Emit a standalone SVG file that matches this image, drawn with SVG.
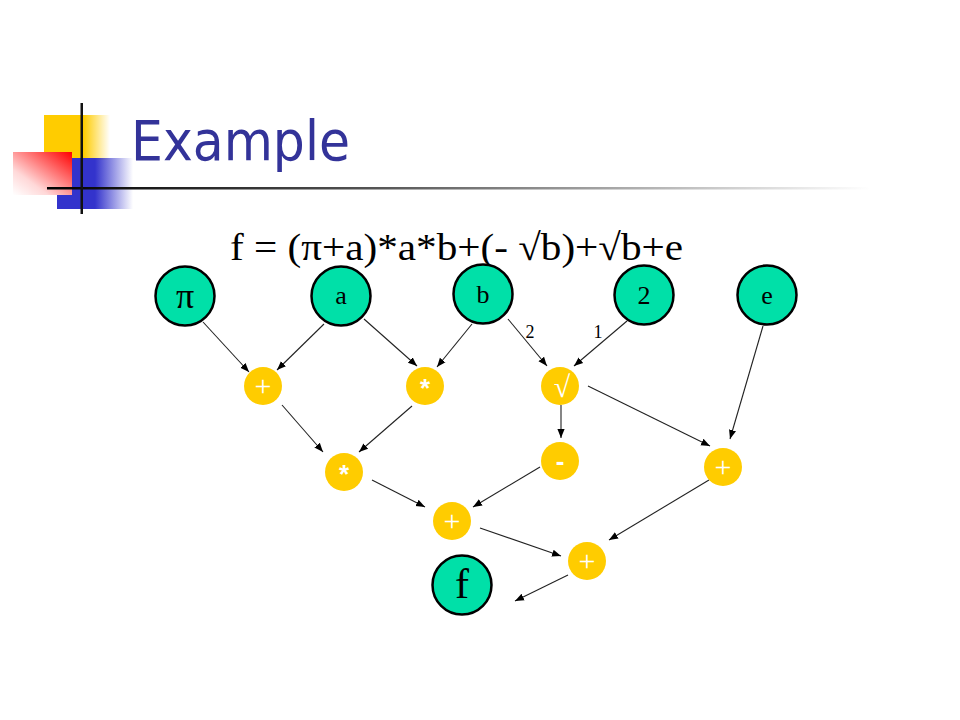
<svg xmlns="http://www.w3.org/2000/svg" width="960" height="720" viewBox="0 0 960 720">
<style>
.g{fill:#00E0A8;stroke:#000;stroke-width:2.5}
.y{fill:#FFCC00}
.gt{font-family:"Liberation Serif",serif;font-size:26px;fill:#000;text-anchor:middle}
.big{font-size:36px}
.huge{font-size:42px}
.yt{font-family:"Liberation Serif",serif;font-size:30px;fill:#fff;text-anchor:middle}
.bd{font-weight:bold;font-family:"Liberation Sans",sans-serif;font-size:26px}
.e{stroke:#222;stroke-width:1.1;fill:none;marker-end:url(#ah)}
.lbl{font-family:"Liberation Serif",serif;font-size:18px;fill:#000;text-anchor:middle}
</style>
<defs>
<marker id="ah" viewBox="0 0 10 10" refX="10" refY="5" markerWidth="9" markerHeight="9" markerUnits="userSpaceOnUse" orient="auto">
<path d="M0,1 L10,5 L0,9 z" fill="#000"/>
</marker>
<linearGradient id="yg" x1="0" y1="0" x2="1" y2="0">
<stop offset="0" stop-color="#FFCC00"/><stop offset="0.6" stop-color="#FFCC00"/><stop offset="1" stop-color="#FFCC00" stop-opacity="0"/>
</linearGradient>
<linearGradient id="bg" x1="0" y1="0" x2="1" y2="0">
<stop offset="0" stop-color="#3333CC"/><stop offset="0.5" stop-color="#3333CC"/><stop offset="1" stop-color="#3333CC" stop-opacity="0"/>
</linearGradient>
<linearGradient id="rg" x1="1" y1="0" x2="0" y2="1">
<stop offset="0" stop-color="#FF0000"/><stop offset="0.7" stop-color="#FFD8D8"/><stop offset="1" stop-color="#FFFFFF"/>
</linearGradient>
<linearGradient id="lg" x1="0" y1="0" x2="1" y2="0">
<stop offset="0" stop-color="#000"/><stop offset="0.4" stop-color="#555"/><stop offset="1" stop-color="#fff"/>
</linearGradient>
</defs>
<rect width="960" height="720" fill="#fff"/>
<g id="decor">
<rect x="44" y="115" width="66" height="45" fill="url(#yg)"/>
<rect x="57" y="158" width="76" height="51" fill="url(#bg)"/>
<rect x="13" y="152" width="59" height="43" fill="url(#rg)"/>
<rect x="47" y="187" width="823" height="2.5" fill="url(#lg)"/>
<rect x="80.5" y="103" width="2.5" height="111" fill="#111"/>
</g>
<text id="title" x="131" y="160" font-family="Tahoma,'DejaVu Sans',sans-serif" font-size="56" fill="#333399" textLength="219" lengthAdjust="spacingAndGlyphs">Example</text>
<text id="formula" x="230" y="260" font-family="'Liberation Serif',serif" font-size="38" fill="#000" textLength="453" lengthAdjust="spacingAndGlyphs">f = (π+a)*a*b+(- √b)+√b+e</text>
<g id="connectors">
<line class="e" x1="203" y1="322" x2="249" y2="372"/>
<line class="e" x1="324" y1="324" x2="277" y2="370"/>
<line class="e" x1="364" y1="319" x2="417" y2="366"/>
<line class="e" x1="472" y1="324" x2="437" y2="367"/>
<line class="e" x1="508" y1="319" x2="547" y2="366"/>
<line class="e" x1="627" y1="321" x2="574" y2="366"/>
<line class="e" x1="763" y1="326" x2="730" y2="439"/>
<line class="e" x1="561" y1="405" x2="561" y2="438"/>
<line class="e" x1="588" y1="386" x2="710" y2="446"/>
<line class="e" x1="282" y1="405" x2="323" y2="452"/>
<line class="e" x1="412" y1="406" x2="359" y2="452"/>
<line class="e" x1="372" y1="480" x2="425" y2="507"/>
<line class="e" x1="540" y1="467" x2="473" y2="507"/>
<line class="e" x1="480" y1="528" x2="561" y2="556"/>
<line class="e" x1="709" y1="480" x2="609" y2="540"/>
<line class="e" x1="568" y1="575" x2="515" y2="601"/>
<text class="lbl" x="530" y="338">2</text>
<text class="lbl" x="598" y="338">1</text>
</g>
<g id="n-pi"><circle class="g" cx="185" cy="296" r="29.5"/><text class="gt big" x="185" y="308">π</text></g>
<g id="n-a"><circle class="g" cx="341" cy="296" r="29.5"/><text class="gt" x="341" y="304">a</text></g>
<g id="n-b"><circle class="g" cx="483" cy="294" r="29.5"/><text class="gt" x="483" y="303">b</text></g>
<g id="n-2"><circle class="g" cx="644" cy="295" r="29.5"/><text class="gt" x="644" y="304">2</text></g>
<g id="n-e"><circle class="g" cx="767" cy="295" r="29.5"/><text class="gt" x="767" y="304">e</text></g>
<g id="n-f"><circle class="g" cx="462" cy="585" r="29.5"/><text class="gt huge" x="462" y="598">f</text></g>
<g id="n-plus1"><circle class="y" cx="263" cy="386" r="19"/><text class="yt" x="263" y="396">+</text></g>
<g id="n-mul1"><circle class="y" cx="425" cy="386" r="19"/><text class="yt bd" x="425" y="397">*</text></g>
<g id="n-sqrt"><circle class="y" cx="560" cy="386" r="19"/><text class="yt" x="562" y="397">√</text></g>
<g id="n-mul2"><circle class="y" cx="344" cy="472" r="19"/><text class="yt bd" x="344" y="483">*</text></g>
<g id="n-neg"><circle class="y" cx="560" cy="461" r="19"/><text class="yt bd" x="560" y="470">-</text></g>
<g id="n-plus2"><circle class="y" cx="723" cy="467" r="19"/><text class="yt" x="723" y="477">+</text></g>
<g id="n-plus3"><circle class="y" cx="452" cy="521" r="19"/><text class="yt" x="452" y="531">+</text></g>
<g id="n-plus4"><circle class="y" cx="587" cy="561" r="19"/><text class="yt" x="587" y="571">+</text></g>
</svg>
